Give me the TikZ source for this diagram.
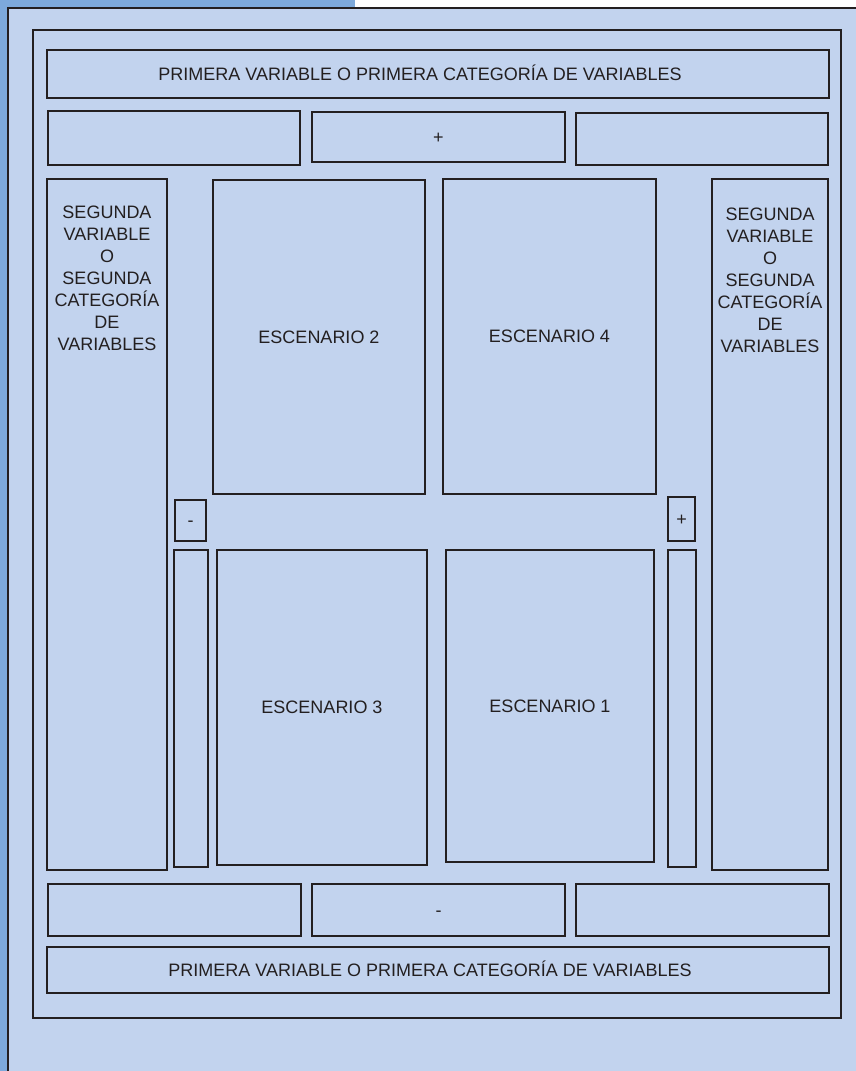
\documentclass[tikz,border=0pt]{standalone}
\usepackage{fontspec}
\setmainfont{Liberation Sans}
\definecolor{lightfill}{HTML}{C2D3EE}
\definecolor{darkband}{HTML}{7DA9DB}
\definecolor{ink}{HTML}{231F20}
\tikzset{
  frame/.style={draw=ink, line width=2.2pt},
  cell/.style={draw=ink, line width=2.4pt, rectangle, inner sep=0pt, fill=lightfill,
    font=\fontsize{18}{22}\selectfont, text=ink, text height=12.9pt, text depth=0pt},
  sidetext/.style={inner sep=0pt, align=center, anchor=north,
    font=\fontsize{18}{22}\selectfont, text=ink},
  headtext/.style={inner sep=0pt, font=\fontsize{18}{22}\selectfont, text=ink,
    text height=12.9pt, text depth=0pt},
}
\begin{document}
\begin{tikzpicture}[x=1pt,y=-1pt]
\useasboundingbox (0,0) rectangle (856,1071);
% background bands
\fill[white] (0,0) rectangle (856,1071);
\fill[darkband] (0,0) rectangle (355,8);
\fill[darkband] (0,0) rectangle (8,1071);
\fill[lightfill] (8,8) rectangle (856,1071);
\draw[frame] (8,1071) -- (8,8) -- (856,8);
% inner frame
\draw[frame] (33,30) rectangle (841,1018);
% top rows
\node[cell, minimum width=782pt, minimum height=48pt] (tophead) at (438,74) {};
\node[headtext] (topheadtext) at (420,74) {PRIMERA VARIABLE O PRIMERA CATEGORÍA DE VARIABLES};
\node[cell, minimum width=252pt, minimum height=54pt] (topleft) at (174,138) {};
\node[cell, minimum width=253pt, minimum height=50pt] (topmid) at (438.5,137) {+};
\node[cell, minimum width=252pt, minimum height=52pt] (topright) at (702,139) {};
% side columns
\node[cell, minimum width=120pt, minimum height=691pt] (leftcol) at (107,524.5) {};
\node[cell, minimum width=116pt, minimum height=691pt] (rightcol) at (770,524.5) {};
\node[sidetext] (lefttext) at (107,206) {SEGUNDA\\VARIABLE\\O\\SEGUNDA\\CATEGORÍA\\DE\\VARIABLES};
\node[sidetext] (righttext) at (770,208) {SEGUNDA\\VARIABLE\\O\\SEGUNDA\\CATEGORÍA\\DE\\VARIABLES};
% scenarios
\node[cell, minimum width=212pt, minimum height=314pt] (esc2) at (319,337) {ESCENARIO 2};
\node[cell, minimum width=213pt, minimum height=315pt] (esc4) at (549.5,336.5) {ESCENARIO 4};
\node[cell, minimum width=210pt, minimum height=315pt] (esc3) at (322,707.5) {ESCENARIO 3};
\node[cell, minimum width=208pt, minimum height=312pt] (esc1) at (550,706) {ESCENARIO 1};
% small sign boxes and bars
\node[cell, minimum width=31pt, minimum height=41pt] (minusbox) at (190.5,520.5) {-};
\node[cell, minimum width=27pt, minimum height=44pt] (plusbox) at (681.5,519) {+};
\node[cell, minimum width=34pt, minimum height=317pt] (leftbar) at (191,708.5) {};
\node[cell, minimum width=28pt, minimum height=317pt] (rightbar) at (682,708.5) {};
% bottom rows
\node[cell, minimum width=253pt, minimum height=52pt] (botleft) at (174.5,910) {};
\node[cell, minimum width=253pt, minimum height=52pt] (botmid) at (438.5,910) {-};
\node[cell, minimum width=253pt, minimum height=52pt] (botright) at (702.5,910) {};
\node[cell, minimum width=782pt, minimum height=46pt] (bothead) at (438,970) {};
\node[headtext] (botheadtext) at (430,970) {PRIMERA VARIABLE O PRIMERA CATEGORÍA DE VARIABLES};
\end{tikzpicture}
\end{document}
